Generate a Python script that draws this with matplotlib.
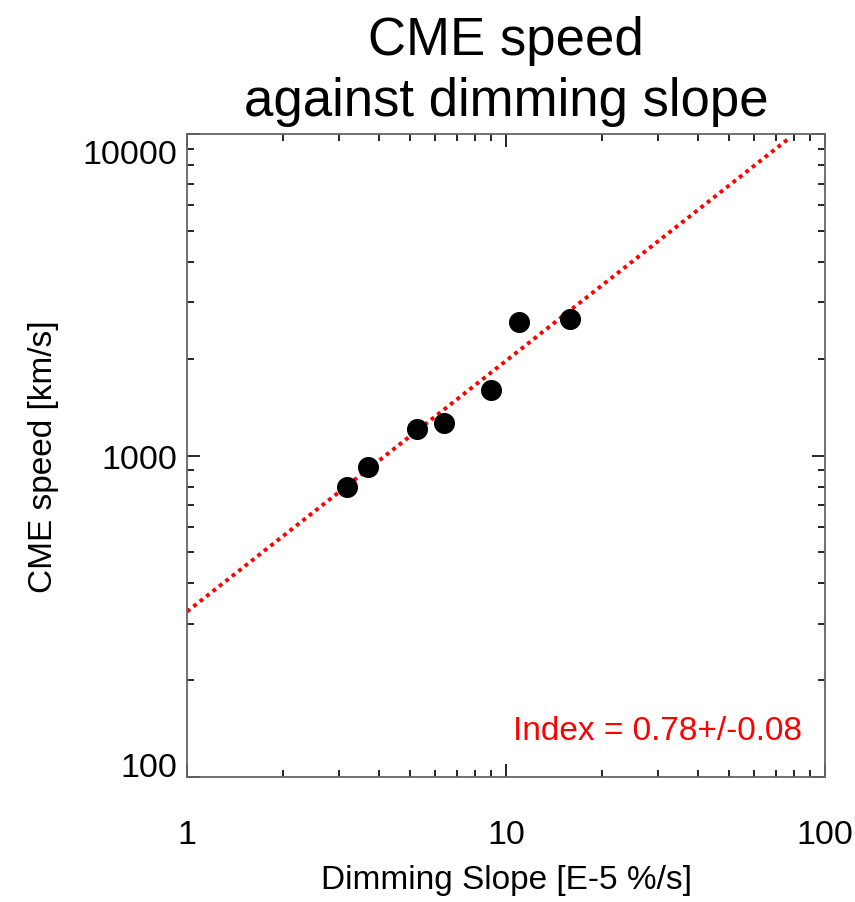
import numpy as np
import matplotlib
matplotlib.use('Agg')
import matplotlib.pyplot as plt
import matplotlib.transforms as mtransforms
from matplotlib.ticker import LogLocator, NullFormatter, FixedLocator

plt.rcParams['font.family'] = ['Liberation Sans', 'DejaVu Sans']

# data
dimming_slope = [3.18, 3.68, 5.27, 6.38, 8.96, 10.96, 15.87]
cme_speed = [799, 920, 1213, 1264, 1593, 2593, 2649]

# power-law fit
fit_index = 0.78
fit_norm = 327.0
fit_x = np.array([1.0, 77.0])
fit_y = fit_norm * fit_x ** fit_index

x_ticks = [1, 10, 100]
y_ticks = [100, 1000, 10000]

fig = plt.figure(figsize=(8.55, 9.03), dpi=100)
ax = fig.add_axes([187/855, 1-778/903, 638/855, 643/903])

ax.plot(fit_x, fit_y, color='red', lw=2.8, ls=(0, (1.0, 1.1)))
ax.scatter(dimming_slope, cme_speed, s=200, color='black', zorder=3)

ax.set_xscale('log')
ax.set_yscale('log')
ax.set_xlim(1, 100)
ax.set_ylim(100, 10000)

ax.xaxis.set_major_locator(FixedLocator(x_ticks))
ax.yaxis.set_major_locator(FixedLocator(y_ticks))
ax.xaxis.set_minor_locator(LogLocator(base=10, subs=np.arange(2, 10)))
ax.yaxis.set_minor_locator(LogLocator(base=10, subs=np.arange(2, 10)))
ax.xaxis.set_minor_formatter(NullFormatter())
ax.yaxis.set_minor_formatter(NullFormatter())
ax.set_xticklabels([str(t) for t in x_ticks])
ax.set_yticklabels([str(t) for t in y_ticks])

ax.tick_params(which='both', direction='in', top=True, right=True,
               colors='black', labelsize=24.5)
ax.tick_params(which='major', length=9.5, width=1.2)
ax.tick_params(which='minor', length=5, width=1.2)
ax.tick_params(axis='x', which='major', pad=30)
ax.tick_params(axis='y', which='major', pad=7)

for sp in ax.spines.values():
    sp.set_color('#666666')
    sp.set_linewidth(1.3)

# shift the end labels inward like the original
ylabs = ax.get_yticklabels()
ylabs[0].set_transform(ylabs[0].get_transform() +
                       mtransforms.ScaledTranslation(0, 13/100, fig.dpi_scale_trans))
ylabs[-1].set_transform(ylabs[-1].get_transform() +
                        mtransforms.ScaledTranslation(0, -17/100, fig.dpi_scale_trans))

ax.set_xlabel('Dimming Slope [E-5 %/s]', fontsize=24)
ax.xaxis.set_label_coords(0.5, -0.135)
ax.set_ylabel('CME speed [km/s]', fontsize=24)
ax.yaxis.set_label_coords(-0.2, 0.5)

ax.set_title('CME speed\nagainst dimming slope', fontsize=38, pad=14, linespacing=1.28)

ax.text(0.964, 0.073, 'Index = %.2f+/-0.08' % fit_index, color='red', fontsize=24,
        ha='right', va='center', transform=ax.transAxes)

fig.savefig('out.png', dpi=100, facecolor='white')
